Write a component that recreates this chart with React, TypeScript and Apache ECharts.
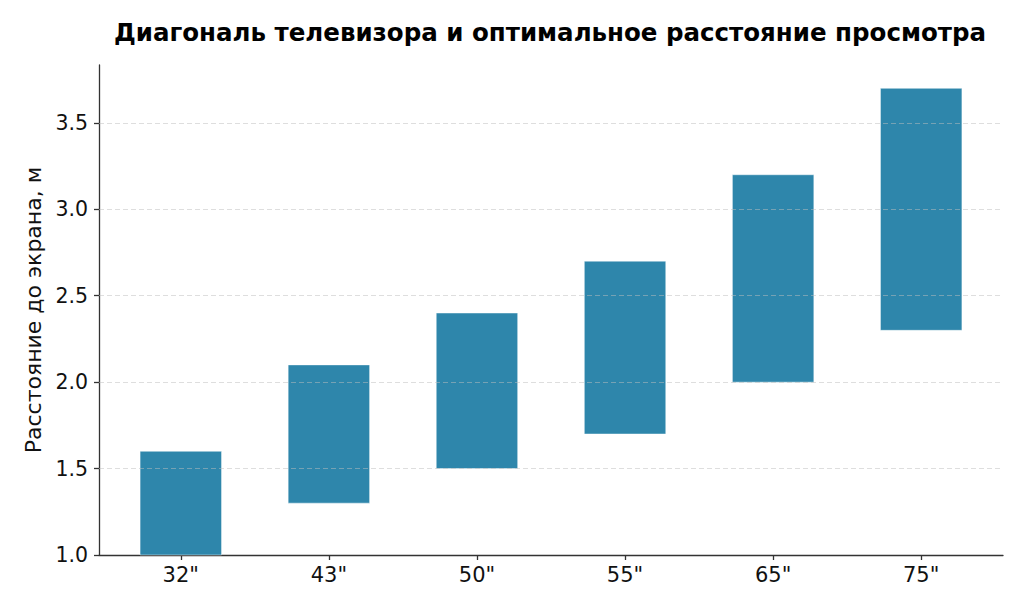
import React, { useEffect, useRef } from "react";
import * as echarts from "echarts";

const categories = ['32"', '43"', '50"', '55"', '65"', '75"'];
const minDistance = [1.0, 1.3, 1.5, 1.7, 2.0, 2.3];
const maxDistance = [1.6, 2.1, 2.4, 2.7, 3.2, 3.7];
const yTicks = [1.0, 1.5, 2.0, 2.5, 3.0, 3.5];
const xTicks = [0, 1, 2, 3, 4, 5];

const FONT = "DejaVu Sans";

export default function App() {
  const ref = useRef<HTMLDivElement>(null);
  useEffect(() => {
    const chart = echarts.init(ref.current!, null, { renderer: "svg" });
    chart.setOption({
      animation: false,
      backgroundColor: "#ffffff",
      graphic: [
        {
          type: "text",
          x: 550,
          y: 32,
          style: {
            text: "Диагональ телевизора и оптимальное расстояние просмотра",
            font: `bold 24.5px "${FONT}"`,
            fill: "#000",
            textAlign: "center",
            textVerticalAlign: "middle",
          },
        },
      ],
      grid: { left: 99, right: 21, top: 65, bottom: 59, containLabel: false },
      xAxis: {
        type: "value",
        min: -0.5525,
        max: 5.5525,
        splitLine: { show: false },
        axisLine: { show: true, onZero: false, lineStyle: { color: "#333", width: 1.3 } },
        axisTick: { show: true, customValues: xTicks, length: 5, lineStyle: { color: "#333", width: 1.3 } },
        axisLabel: {
          customValues: xTicks,
          formatter: (v: number) => categories[Math.round(v)] ?? "",
          fontFamily: FONT,
          fontSize: 21,
          color: "#111",
          margin: 9,
        },
      },
      yAxis: {
        type: "value",
        min: 1.0,
        max: 3.835,
        name: "Расстояние до экрана, м",
        nameLocation: "middle",
        nameGap: 55,
        nameTextStyle: { fontFamily: FONT, fontSize: 22, color: "#111" },
        splitLine: { show: false },
        axisLine: { show: true, onZero: false, lineStyle: { color: "#333", width: 1.3 } },
        axisTick: { show: true, customValues: yTicks, length: 5, lineStyle: { color: "#333", width: 1.3 } },
        axisLabel: {
          customValues: yTicks,
          formatter: (v: number) => v.toFixed(1),
          fontFamily: FONT,
          fontSize: 20.5,
          color: "#111",
          margin: 11,
        },
      },
      series: [
        {
          type: "custom",
          z: 2,
          data: categories.map((_, i) => [i, minDistance[i], maxDistance[i]]),
          encode: { x: 0, y: [1, 2] },
          renderItem: (params: any, api: any) => {
            const x = api.value(0);
            const lo = api.value(1);
            const hi = api.value(2);
            const p1 = api.coord([x - 0.275, hi]);
            const p2 = api.coord([x + 0.275, lo]);
            const cs = params.coordSys;
            const shape = echarts.graphic.clipRectByRect(
              { x: p1[0], y: p1[1], width: p2[0] - p1[0], height: p2[1] - p1[1] },
              { x: cs.x, y: cs.y, width: cs.width, height: cs.height }
            );
            if (!shape) return null;
            return {
              type: "rect",
              shape,
              style: { fill: "#2E86AB", stroke: "rgba(255,255,255,0.45)", lineWidth: 1 },
            };
          },
        },
        {
          type: "line",
          z: 10,
          data: [],
          markLine: {
            silent: true,
            symbol: "none",
            label: { show: false },
            lineStyle: { type: [5, 3], color: "rgba(190,190,190,0.5)", width: 1 },
            data: yTicks.slice(1).map((v) => ({ yAxis: v })),
          },
        },
      ],
    });
    return () => chart.dispose();
  }, []);
  return (
    <div
      ref={ref}
      style={{ position: "absolute", left: 0, top: 0, width: 1024, height: 614 }}
    />
  );
}
